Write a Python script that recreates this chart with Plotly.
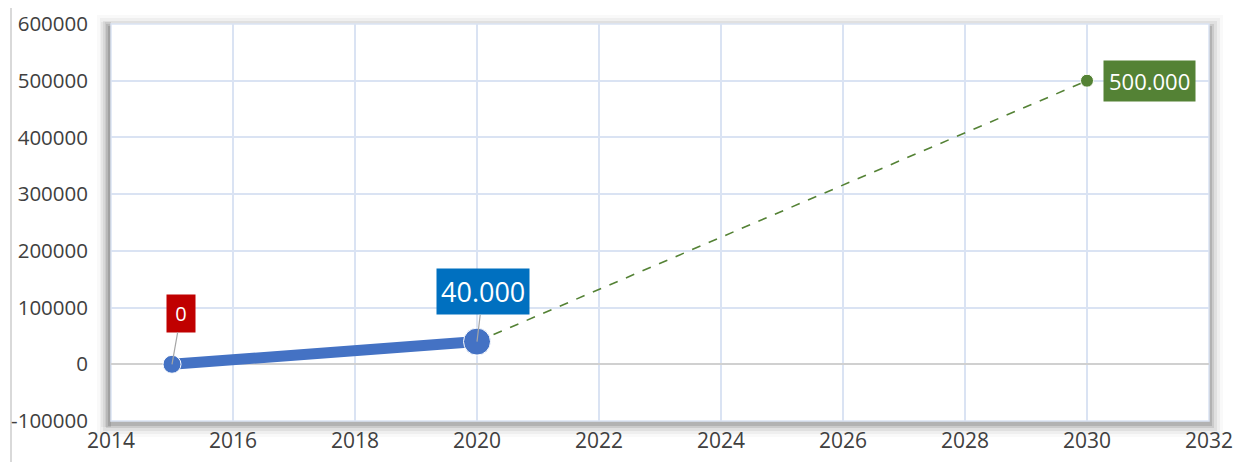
import plotly.graph_objects as go

# Data
hist_years = [2015, 2020]
hist_values = [0, 40000]
target_years = [2020, 2030]
target_values = [40000, 500000]
hist_labels = ["0", "40.000"]
target_label = "500.000"
y_tickvals = [-100000, 0, 100000, 200000, 300000, 400000, 500000, 600000]
y_ticktext = ["-100000", "0", "100000", "200000", "300000", "400000", "500000", "600000"]

# page body has an 8px margin, so the figure is drawn 8px smaller
W, H = 1235, 454
L, R, T, B = 103, 34, 16, 41

fig = go.Figure()

fig.add_trace(go.Scatter(
    x=target_years, y=target_values, mode="lines+markers",
    line=dict(color="#548235", width=1.6, dash="dash"),
    marker=dict(size=[0, 13], color="#548235", opacity=1),
    showlegend=False, hoverinfo="skip"))

fig.add_trace(go.Scatter(
    x=hist_years, y=hist_values, mode="lines+markers",
    line=dict(color="#4472C4", width=11),
    marker=dict(size=[18, 27], color="#4472C4", opacity=1),
    showlegend=False, hoverinfo="skip"))

# labels
fig.add_annotation(x=hist_years[0], y=hist_values[0], text=hist_labels[0],
                   showarrow=True, arrowhead=0, arrowwidth=1.2, arrowcolor="#a6a6a6",
                   ax=9, ay=-51, bgcolor="#C00000", borderpad=5, width=18,
                   font=dict(color="white", size=20, family="Open Sans"))
fig.add_annotation(x=hist_years[1], y=hist_values[1], text=hist_labels[1],
                   showarrow=True, arrowhead=0, arrowwidth=1.2, arrowcolor="#a6a6a6",
                   ax=6, ay=-50, bgcolor="#0070C0", borderpad=4,
                   font=dict(color="white", size=27, family="Open Sans"))
fig.add_annotation(x=target_years[1], y=target_values[1], text=target_label,
                   showarrow=False, xanchor="left", xshift=16,
                   bgcolor="#548235", borderpad=5,
                   font=dict(color="white", size=22, family="Open Sans"))

# frame shadow + white plot area
shapes = []
pw = W - L - R
ph = H - T - B
for d, a in [(14, 0.025), (11, 0.04), (8, 0.06), (5, 0.09), (3, 0.12)]:
    shapes.append(dict(type="rect", xref="paper", yref="paper",
                       x0=-d / pw, x1=1 + d / pw, y0=-(d + 2) / ph, y1=1 + (d - 5) / ph,
                       fillcolor=f"rgba(0,0,0,{a})", line=dict(width=0), layer="below"))
# slightly stronger shadow on the left side
for d, a in [(10, 0.04), (6, 0.06)]:
    shapes.append(dict(type="rect", xref="paper", yref="paper",
                       x0=-d / pw, x1=0, y0=-6 / ph, y1=1 + 2 / ph,
                       fillcolor=f"rgba(0,0,0,{a})", line=dict(width=0), layer="below"))
shapes.append(dict(type="rect", xref="paper", yref="paper", x0=0, x1=1, y0=0, y1=1,
                   fillcolor="white", line=dict(width=1.5, color="#dae3f3"), layer="below"))
shapes.append(dict(type="line", xref="paper", yref="paper",
                   x0=-(L - 3) / pw, x1=-(L - 3) / pw, y0=-B / ph, y1=1 + T / ph,
                   line=dict(color="#d9d9d9", width=2), layer="below"))
fig.update_layout(shapes=shapes)

fig.update_layout(
    width=W, height=H,
    margin=dict(l=L, r=R, t=T, b=B, autoexpand=False),
    paper_bgcolor="white", plot_bgcolor="rgba(0,0,0,0)",
    font=dict(family="Open Sans", color="#404040", size=20.5),
    xaxis=dict(range=[2014, 2032], dtick=2, tick0=2014, showgrid=True,
               gridcolor="#dae3f3", gridwidth=1.5, zeroline=False, showline=False,
               ticks="", ticklabelstandoff=5, tickfont=dict(size=21), automargin=False),
    yaxis=dict(range=[-100000, 600000], tickmode="array", tickvals=y_tickvals,
               ticktext=y_ticktext, showgrid=True,
               gridcolor="#dae3f3", gridwidth=1.5, zeroline=True, zerolinecolor="#d0d0d0",
               zerolinewidth=2, showline=False, ticks="", ticklabelstandoff=22,
               tickfont=dict(size=20.5), automargin=False),
)

fig.write_html("out.html")
